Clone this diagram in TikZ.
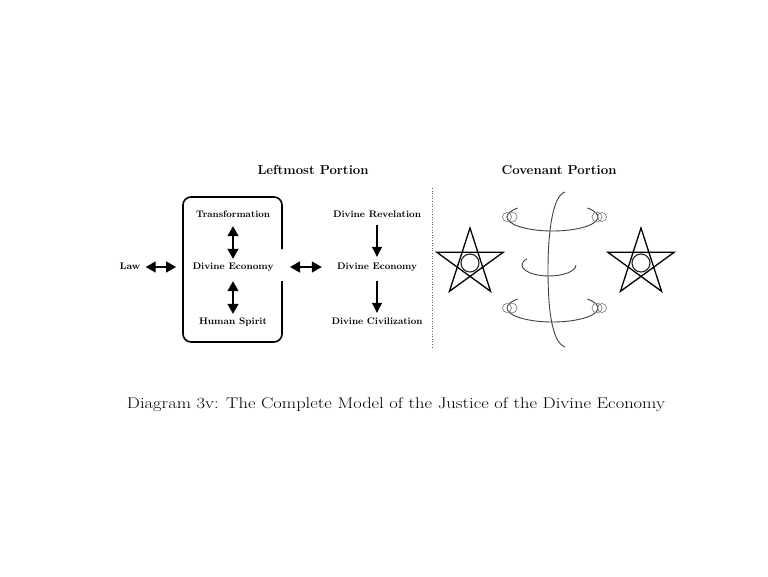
\documentclass[tikz,border=0pt]{standalone}
\usepackage{fontspec}
\usepackage{graphicx}
\usetikzlibrary{arrows.meta}
\newcommand{\wtext}[2]{\resizebox{#1pt}{\height}{#2}}
\begin{document}
\begin{tikzpicture}[x=1pt,y=-1pt,
  lbl/.style={font=\fontsize{9.5}{10}\selectfont\bfseries, inner sep=1pt, text height=6.5pt, text depth=1.5pt},
  ttl/.style={font=\fontsize{13}{14}\selectfont\bfseries, inner sep=1pt},
  dbl/.style={line width=1.4pt, {Triangle[width=11pt,length=10pt]}-{Triangle[width=11pt,length=10pt]}},
  downarr/.style={line width=1.1pt, -{Triangle[width=10pt,length=10pt]}},
  starline/.style={line width=1.3pt, line join=miter},
  orbit/.style={draw=black!75, line width=0.9pt},
  ring/.style={draw=black!55, line width=0.6pt},
]
\useasboundingbox (0,0) rectangle (768,576);
\fill[white] (0,0) rectangle (768,576);

% titles
\node[ttl] (tl) at (313,170) {\wtext{111}{Leftmost Portion}};
\node[ttl] (tc) at (559,170) {\wtext{115}{Covenant Portion}};

% box with gap on right side
\draw[line width=1.6pt, rounded corners=8pt]
  (282,249) -- (282,197) -- (183,197) -- (183,342) -- (282,342) -- (282,281);
\coordinate (boxL) at (183,267);
\coordinate (boxR) at (282,267);

% left column
\node[lbl] (tr) at (233,215) {\wtext{74}{Transformation}};
\node[lbl] (de1) at (233,267) {\wtext{81}{Divine Economy}};
\node[lbl] (hs) at (233,322) {\wtext{68}{Human Spirit}};
\node[lbl] (law) at (130,267) {\wtext{21}{Law}};

\draw[dbl, shorten <=6pt, shorten >=3pt] (tr.south) -- (de1.north);
\draw[dbl, shorten <=9pt, shorten >=3pt] (de1.south) -- (hs.north);
\draw[dbl, shorten <=4pt, shorten >=7pt] (law.east) -- (boxL);

% right column
\node[lbl] (dr) at (377,215) {\wtext{88}{Divine Revelation}};
\node[lbl] (de2) at (377,267) {\wtext{80}{Divine Economy}};
\node[lbl] (dc) at (377,322) {\wtext{91}{Divine Civilization}};
\draw[downarr, shorten <=5pt, shorten >=5pt] (dr.south) -- (de2.north);
\draw[downarr, shorten <=9pt, shorten >=4pt] (de2.south) -- (dc.north);
\draw[dbl, shorten <=8pt, shorten >=14pt] (boxR) -- (de2.west);

% dotted separator
\draw[black!60, line width=0.6pt, dotted] (432,188) -- (432,348);

% stars
\foreach \cx/\nm in {470/sA, 641/sB}{
  \coordinate (\nm) at (\cx,263);
  \draw[starline] ([shift={(270:35)}]\nm) -- ([shift={(54:35)}]\nm) -- ([shift={(198:35)}]\nm)
     -- ([shift={(342:35)}]\nm) -- ([shift={(126:35)}]\nm) -- cycle;
  \draw[line width=1.1pt, draw=black!85] (\nm) circle[radius=9];
}

% vertical curve
\draw[orbit] (565,192) .. controls (552,196) and (548,235) .. (548,270)
  .. controls (548,305) and (551,342) .. (565,347);

% orbits
\coordinate (oT) at (552.5,217);
\coordinate (oM) at (549,265);
\coordinate (oB) at (552.5,308);
\draw[orbit] (oT) ++(-40:45.5 and 14) arc[start angle=-40, end angle=220, x radius=45.5, y radius=14];
\draw[orbit] (oB) ++(-40:45.5 and 14) arc[start angle=-40, end angle=220, x radius=45.5, y radius=14];
\draw[orbit] (oM) ++(0:27 and 11) arc[start angle=0, end angle=215, x radius=27, y radius=11];

% small rings
\foreach \ry in {217,308}{
  \draw[ring] (512,\ry) circle[radius=5];
  \draw[ring] (507,\ry) circle[radius=4.5];
  \draw[ring] (597,\ry) circle[radius=5];
  \draw[ring] (602,\ry) circle[radius=4.5];
}

% caption
\node[text=black] (cap) at (396,405) {\fontsize{15.5}{16}\selectfont\wtext{538}{Diagram 3v: The Complete Model of the Justice of the Divine Economy}};
\end{tikzpicture}
\end{document}
